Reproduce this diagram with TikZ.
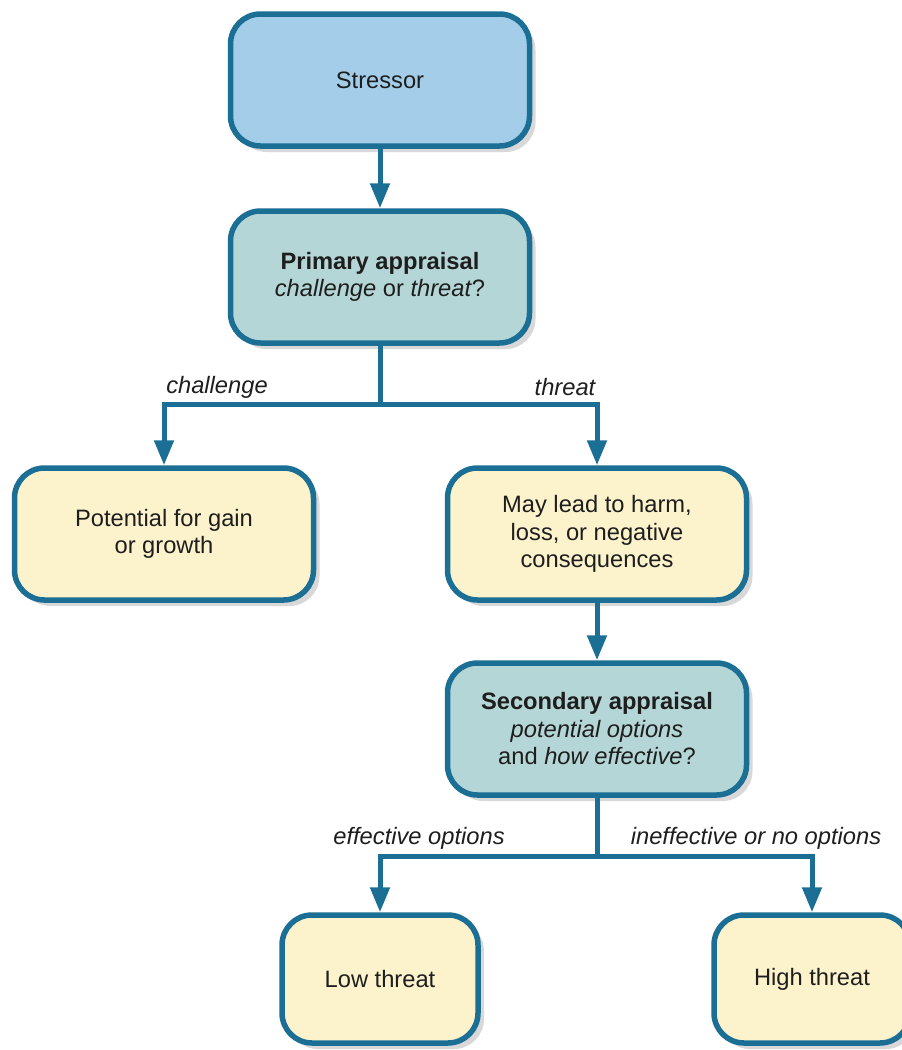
\documentclass[tikz,border=0pt]{standalone}
\usepackage{fontspec}
\setmainfont{Liberation Sans}
\usetikzlibrary{arrows.meta,shadows}
\definecolor{edgeblue}{HTML}{1B6E94}
\definecolor{stressfill}{HTML}{A3CDE8}
\definecolor{apprfill}{HTML}{B5D6D6}
\definecolor{yelfill}{HTML}{FCF3CC}
\definecolor{txt}{HTML}{1E1E1E}
\tikzset{
  box/.style={rectangle, rounded corners=30pt, draw=edgeblue, line width=5.5pt,
    minimum width=299pt, minimum height=132pt, align=center, text=txt,
    font=\fontsize{23.7}{27.5}\selectfont,
    drop shadow={shadow xshift=6pt, shadow yshift=-6pt, opacity=0.22, fill=black!70}},
  bluebox/.style={box, fill=stressfill},
  apprbox/.style={box, fill=apprfill},
  yelbox/.style={box, fill=yelfill},
  smallbox/.style={yelbox, minimum width=196pt, minimum height=128pt},
  conn/.style={draw=edgeblue, line width=5pt},
  arr/.style={conn, -{Triangle[length=25pt,width=19pt]}},
  lbl/.style={text=txt, font=\fontsize{23.7}{27.5}\selectfont\itshape, inner sep=0pt}
}
\begin{document}
\begin{tikzpicture}[x=1pt,y=-1pt]
\useasboundingbox (0,0) rectangle (902,1050);
\node[bluebox] (stressor) at (380,80) {Stressor};
\node[apprbox] (primary) at (380,277) {\textbf{Primary appraisal}\\\textit{challenge} or \textit{threat}?};
\node[yelbox] (potential) at (164,534) {Potential for gain\\or growth};
\node[yelbox] (harm) at (597,534) {May lead to harm,\\loss, or negative\\consequences};
\node[apprbox] (secondary) at (597,729) {\textbf{Secondary appraisal}\\\textit{potential options}\\and \textit{how effective}?};
\node[smallbox] (low) at (380,979) {Low threat};
\node[smallbox] (high) at (812,979) {High threat};

\coordinate (j1) at (380,404);
\coordinate (j2) at (597,856);

\draw[arr] (stressor.south) -- (primary.north);
\draw[conn] (primary.south) -- (j1);
\draw[arr] (j1) -| (potential.north);
\draw[arr] (j1) -| (harm.north);
\draw[arr] (harm.south) -- (secondary.north);
\draw[conn] (secondary.south) -- (j2);
\draw[arr] (j2) -| (low.north);
\draw[arr] (j2) -| (high.north);

\node[lbl] (lchal) at (217,387) {challenge};
\node[lbl] (lthreat) at (565,387) {threat};
\node[lbl] (leff) at (419,838) {effective options};
\node[lbl] (linef) at (756,838) {ineffective or no options};
\end{tikzpicture}
\end{document}
